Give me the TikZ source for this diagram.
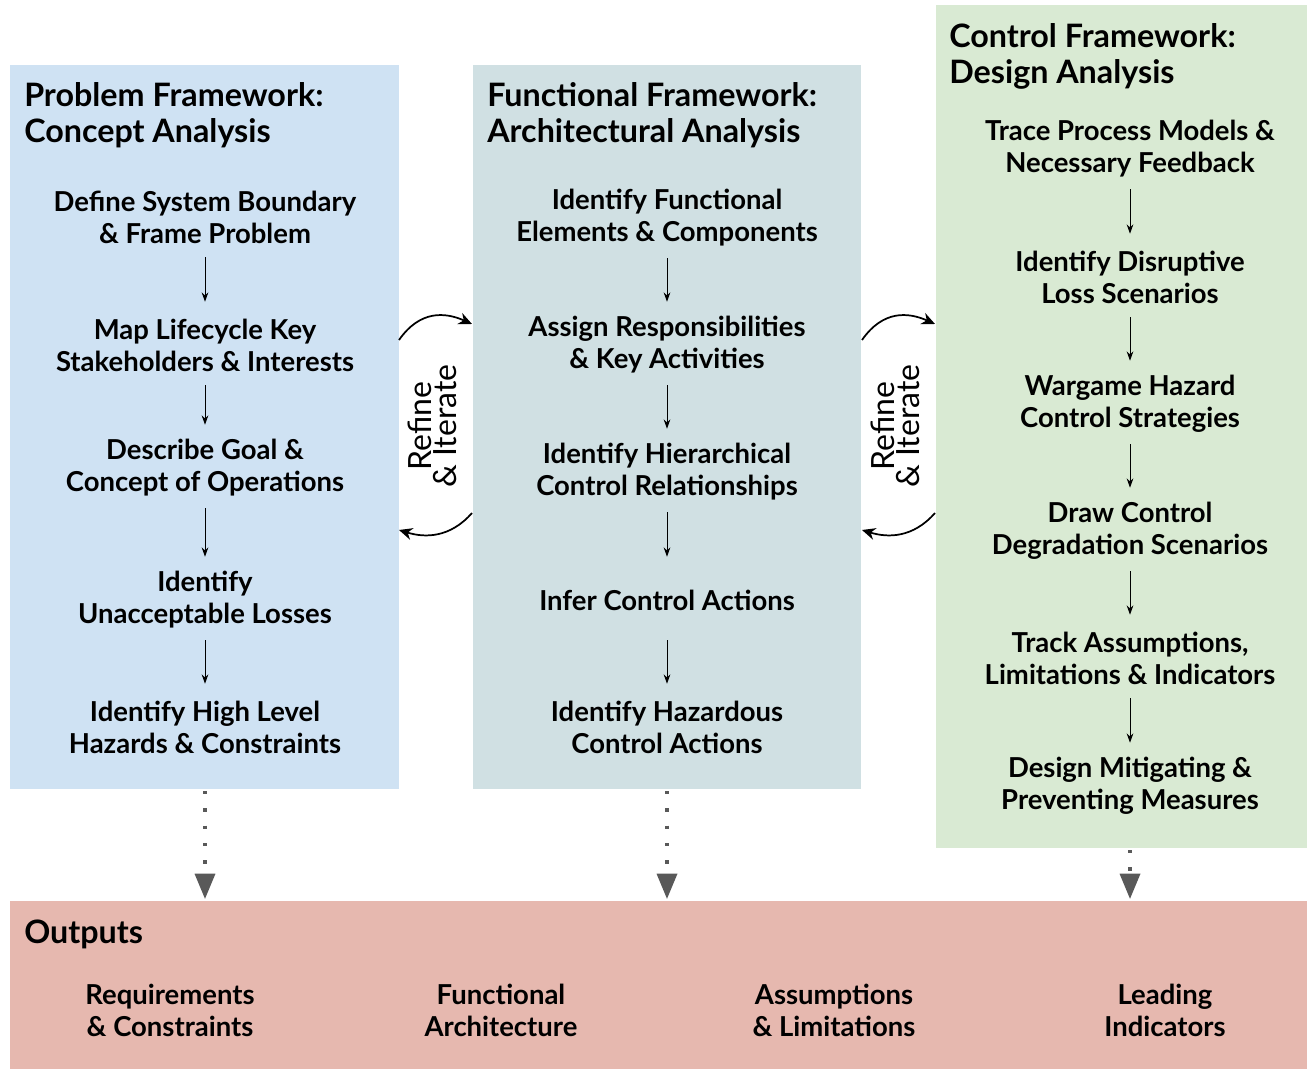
\documentclass[tikz,border=0pt]{standalone}
\usepackage{fontspec}
\setmainfont{Lato}
\usetikzlibrary{arrows.meta}
\definecolor{pblue}{HTML}{CFE2F3}
\definecolor{pteal}{HTML}{D0E0E3}
\definecolor{pgreen}{HTML}{D9EAD3}
\definecolor{pred}{HTML}{E6B8AF}
\definecolor{dgray}{HTML}{595959}
\tikzset{
  ttl/.style={anchor=west, align=left, inner sep=0pt, font=\fontsize{24.2pt}{27pt}\selectfont\bfseries},
  item/.style={align=center, inner sep=0pt, minimum height=48pt, font=\fontsize{20.6pt}{24pt}\selectfont\bfseries},
  arr/.style={-{Stealth[length=7pt,width=5pt]}, line width=0.75pt, shorten <=6pt, shorten >=8.25pt},
  dotarr/.style={dgray, line width=2.6pt, dash pattern=on 2.6pt off 10.4pt, -{Triangle[width=15pt,length=19pt]}},
  loop/.style={-{Stealth[length=10pt,width=9pt]}, line width=1.3pt},
  rit/.style={rotate=90, align=center, inner sep=0pt, font=\fontsize{24pt}{18.75pt}\selectfont}
}
\begin{document}
\begin{tikzpicture}[x=0.75pt,y=-0.75pt]
\useasboundingbox (0,0) rectangle (1307,1069);
\fill[white] (0,0) rectangle (1307,1069);
% panels
\fill[pblue] (10,65) rectangle (399,789);
\fill[pteal] (473,65) rectangle (861,789);
\fill[pgreen] (936,5) rectangle (1307,848);
\fill[pred] (10,901) rectangle (1307,1069);

% titles
\node[ttl] (t1) at (24,115) {Problem Framework:\\Concept Analysis};
\node[ttl] (t2) at (487,115) {Functional Framework:\\Architectural Analysis};
\node[ttl] (t3) at (949,56) {Control Framework:\\Design Analysis};
\node[ttl] (t4) at (24,934) {Outputs};

% left column
\node[item] (a1) at (205,217) {Define System Boundary\\\& Frame Problem};
\node[item] (a2) at (205,345) {Map Lifecycle Key\\Stakeholders \& Interests};
\node[item] (a3) at (205,468) {Describe Goal \&\\Concept of Operations};
\node[item] (a4) at (205,600) {Identify\\Unacceptable Losses};
\node[item] (a5) at (205,727) {Identify High Level\\Hazards \& Constraints};
\draw[arr] (a1) -- (a2);
\draw[arr] (a2) -- (a3);
\draw[arr] (a3) -- (a4);
\draw[arr] (a4) -- (a5);

% middle column
\node[item] (b1) at (667,218) {Identify Functional\\Elements \& Components};
\node[item] (b2) at (667,345) {Assign Responsibilities\\\& Key Activities};
\node[item] (b3) at (667,472) {Identify Hierarchical\\Control Relationships};
\node[item] (b4) at (667,600) {Infer Control Actions};
\node[item] (b5) at (667,727) {Identify Hazardous\\Control Actions};
\draw[arr] (b1) -- (b2);
\draw[arr] (b2) -- (b3);
\draw[arr] (b3) -- (b4);
\draw[arr] (b4) -- (b5);

% right column
\node[item] (c1) at (1130,149) {Trace Process Models \&\\Necessary Feedback};
\node[item] (c2) at (1130,277) {Identify Disruptive\\Loss Scenarios};
\node[item] (c3) at (1130,404) {Wargame Hazard\\Control Strategies};
\node[item] (c4) at (1130,531) {Draw Control\\Degradation Scenarios};
\node[item] (c5) at (1130,658) {Track Assumptions,\\Limitations \& Indicators};
\node[item] (c6) at (1130,786) {Design Mitigating \&\\Preventing Measures};
\draw[arr] (c1) -- (c2);
\draw[arr] (c2) -- (c3);
\draw[arr] (c3) -- (c4);
\draw[arr] (c4) -- (c5);
\draw[arr] (c5) -- (c6);

% outputs
\node[item] (o1) at (170,1010) {Requirements\\\& Constraints};
\node[item] (o2) at (501,1010) {Functional\\Architecture};
\node[item] (o3) at (834,1010) {Assumptions\\\& Limitations};
\node[item] (o4) at (1165,1010) {Leading\\Indicators};

% dotted arrows
\coordinate (d1s) at (205,791); \coordinate (d1e) at (205,899);
\coordinate (d2s) at (667,791); \coordinate (d2e) at (667,899);
\coordinate (d3s) at (1130,850); \coordinate (d3e) at (1130,899);
\draw[dotarr] (d1s) -- (d1e);
\draw[dotarr] (d2s) -- (d2e);
\draw[dotarr] (d3s) -- (d3e);

% refine & iterate
\node[rit] (r1) at (432,426) {Refine\\\& Iterate};
\node[rit] (r2) at (895,426) {Refine\\\& Iterate};
\coordinate (l1a) at (399,340); \coordinate (l1b) at (472,324);
\coordinate (l1c) at (472,513); \coordinate (l1d) at (399,530);
\draw[loop] (l1a) .. controls (420,310) and (445,312) .. (l1b);
\draw[loop] (l1c) .. controls (450,538) and (425,538) .. (l1d);
\coordinate (l2a) at (862,340); \coordinate (l2b) at (935,324);
\coordinate (l2c) at (935,513); \coordinate (l2d) at (862,530);
\draw[loop] (l2a) .. controls (883,310) and (908,312) .. (l2b);
\draw[loop] (l2c) .. controls (913,538) and (888,538) .. (l2d);
\end{tikzpicture}
\end{document}
